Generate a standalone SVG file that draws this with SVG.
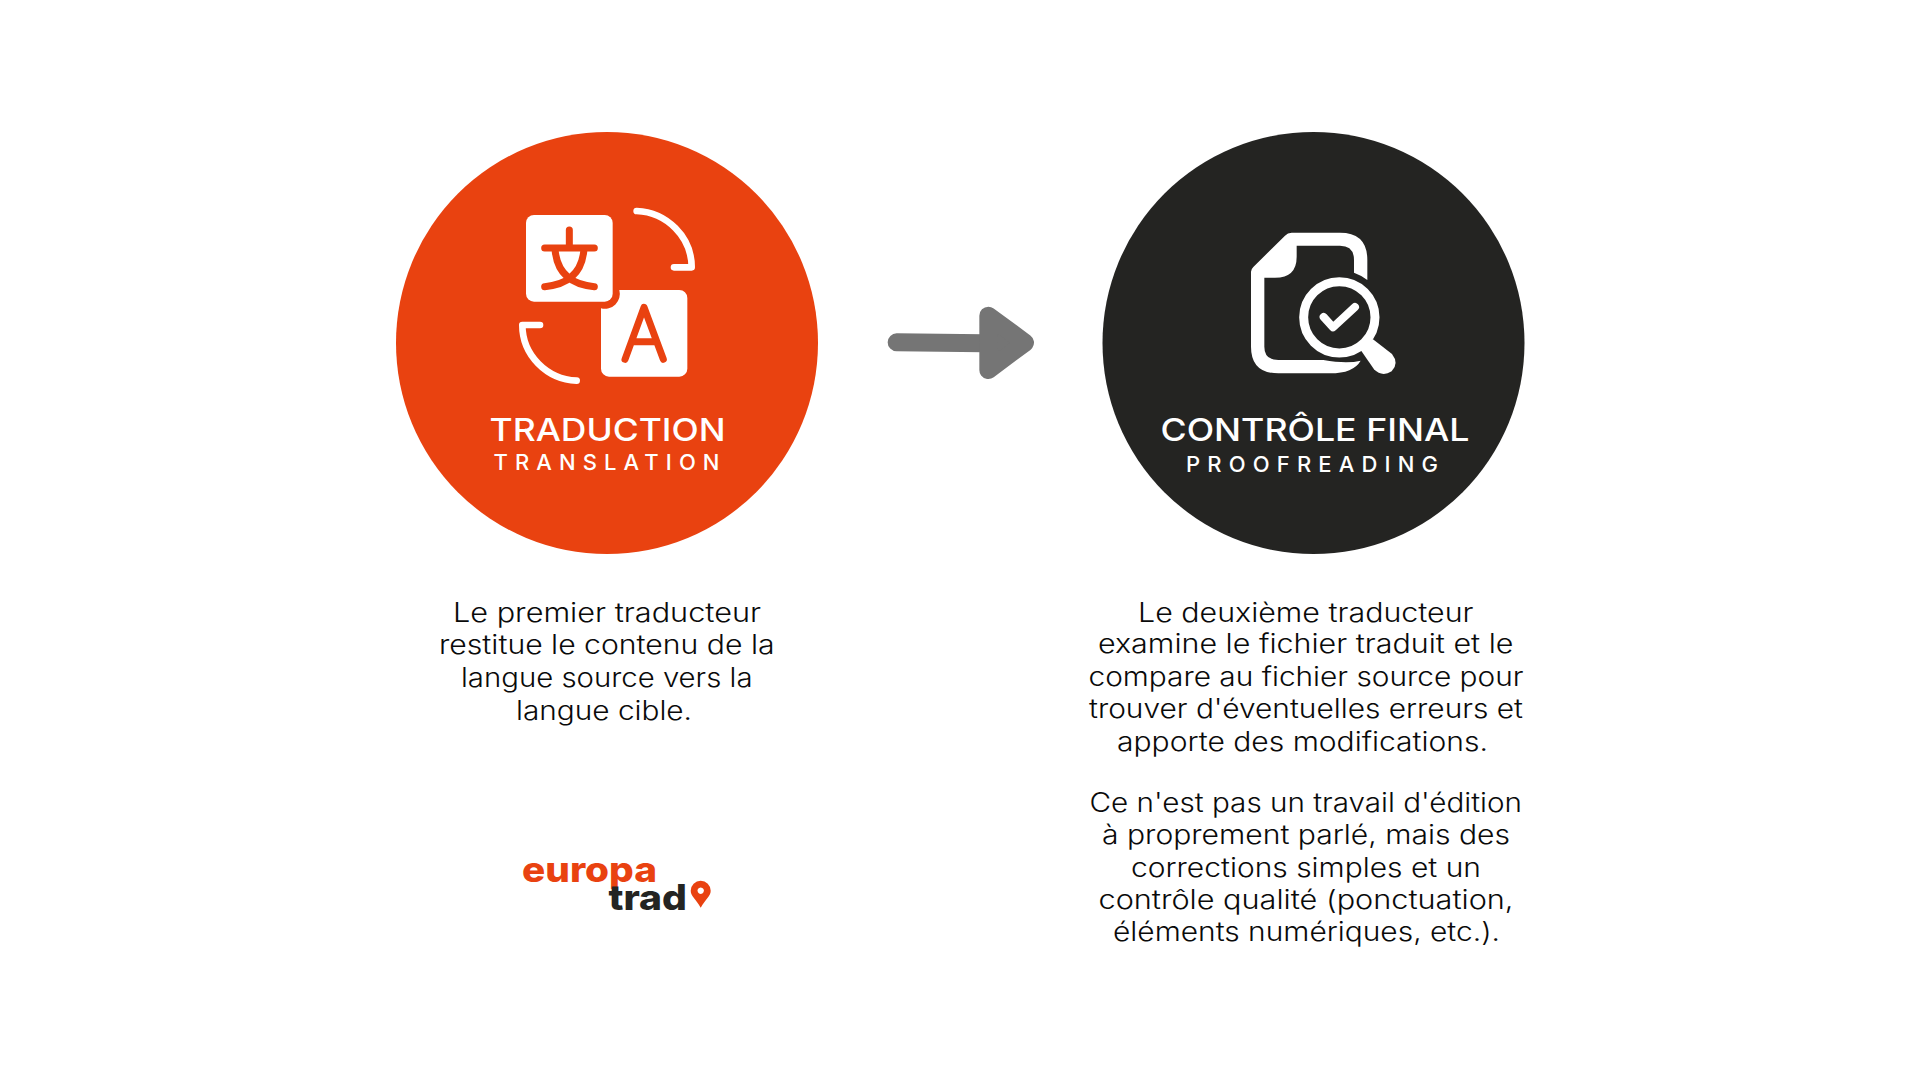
<svg xmlns="http://www.w3.org/2000/svg" width="1920" height="1080" viewBox="0 0 1920 1080">
<style>
text{font-family:Inter,"Open Sans","Liberation Sans",sans-serif}
.b{font-size:26.5px;font-weight:350;fill:#0a0a0a}
.t{font-size:31.5px;font-weight:500;fill:#fff}
.s{font-size:22px;font-weight:500;fill:#fff}
.w{fill:#fff}
.o{fill:none;stroke:#e94210;stroke-linecap:round;stroke-linejoin:round}
.l{fill:none;stroke:#fff;stroke-linecap:round;stroke-linejoin:round}
</style>
<rect width="1920" height="1080" fill="#fff"/>
<g id="node-translation">
<circle cx="607" cy="343" r="211" fill="#e94210"/>
<g transform="translate(480 180) scale(.33333)">
<rect class="w" x="138" y="105" width="260" height="260" rx="24"/>
<path class="w" d="M418 330H598a24 24 0 0 1 24 24V566a24 24 0 0 1-24 24H387a24 24 0 0 1-24-24V385A45 45 0 0 0 418 330Z"/>
<g class="o" stroke-width="21">
<path d="M194 204H343M268 150V204M225 206Q232 310 343 320M312 206Q305 310 194 320"/>
<path d="M435 538L492 382L550 538M455 485H530"/>
</g>
<path class="l" stroke-width="20" d="M470 93C560 97 635 170 635 262H582"/>
<path class="l" stroke-width="20" d="M290 602C200 598 127 525 127 435H180"/>
</g>
<text class="t" x="489.5" y="441" textLength="236" lengthAdjust="spacingAndGlyphs">TRADUCTION</text>
<text class="s" x="493.5" y="469.5" textLength="226" lengthAdjust="spacing">TRANSLATION</text>
<text class="b" x="453" y="621.7" textLength="308" lengthAdjust="spacingAndGlyphs">Le premier traducteur</text>
<text class="b" x="439" y="653.5" textLength="335.5" lengthAdjust="spacingAndGlyphs">restitue le contenu de la</text>
<text class="b" x="461" y="686.5" textLength="291.5" lengthAdjust="spacingAndGlyphs">langue source vers la</text>
<text class="b" x="516" y="719.5" textLength="176" lengthAdjust="spacingAndGlyphs">langue cible.</text>
</g>
<g id="node-proofreading">
<circle cx="1313.5" cy="343" r="211" fill="#242422"/>
<g transform="translate(1150 200) scale(.33333)">
<path class="w" d="M303 215Q303 208 310 201L405 107Q413 98 425 98H570Q652 98 652 180V240Q632 225 612 218V180Q612 137 570 137H440V170Q440 233 375 233H343V440Q343 480 385 480H520Q590 492 632 482Q610 520 540 520H385Q303 520 303 440Z"/>
<circle cx="568" cy="352" r="107" fill="none" stroke="#fff" stroke-width="27"/>
<path class="w" d="M668 417L726 462Q748 490 725 514Q696 532 672 508L632 450Z"/>
<path class="l" stroke-width="24" d="M521 351L549 382L615 321"/>
</g>
<text class="t" x="1160.5" y="441" textLength="309" lengthAdjust="spacingAndGlyphs">CONTRÔLE FINAL</text>
<text class="s" x="1186" y="471.7" textLength="252" lengthAdjust="spacing">PROOFREADING</text>
<text class="b" x="1138" y="621.7" textLength="335.5" lengthAdjust="spacingAndGlyphs">Le deuxième traducteur</text>
<text class="b" x="1098" y="653" textLength="415.5" lengthAdjust="spacingAndGlyphs">examine le fichier traduit et le</text>
<text class="b" x="1088.5" y="686" textLength="435" lengthAdjust="spacingAndGlyphs">compare au fichier source pour</text>
<text class="b" x="1089" y="717.5" textLength="434" lengthAdjust="spacingAndGlyphs">trouver d'éventuelles erreurs et</text>
<text class="b" x="1117" y="750.5" textLength="371" lengthAdjust="spacingAndGlyphs">apporte des modifications.</text>
<text class="b" x="1089.5" y="812" textLength="432.5" lengthAdjust="spacingAndGlyphs">Ce n'est pas un travail d'édition</text>
<text class="b" x="1102" y="844" textLength="408" lengthAdjust="spacingAndGlyphs">à proprement parlé, mais des</text>
<text class="b" x="1131" y="876.7" textLength="350" lengthAdjust="spacingAndGlyphs">corrections simples et un</text>
<text class="b" x="1098.5" y="909" textLength="415" lengthAdjust="spacingAndGlyphs">contrôle qualité (ponctuation,</text>
<text class="b" x="1113" y="941" textLength="387" lengthAdjust="spacingAndGlyphs">éléments numériques, etc.).</text>
</g>
<g id="connectors">
<g transform="translate(870 290) scale(.33333)" fill="#757575" stroke="#757575" stroke-linejoin="round" stroke-linecap="round">
<path d="M80 157L340 160" fill="none" stroke-width="54"/>
<path d="M355 77L465 158L355 240Z" stroke-width="54"/>
</g>
</g>
<g id="logo">
<text x="522" y="881.7" font-size="35" font-weight="800" fill="#e94210" textLength="135" lengthAdjust="spacingAndGlyphs">europa</text>
<text x="608.5" y="910" font-size="35" font-weight="800" fill="#242422" textLength="78.5" lengthAdjust="spacingAndGlyphs">trad</text>
<path fill="#e94210" fill-rule="evenodd" d="M700.7 907.7C696 899 690.7 896 690.7 890.7A10 10 0 0 1 710.7 890.7C710.7 896 705.5 899 700.7 907.7ZM700.7 887.5a3.2 3.2 0 1 0 .01 0Z"/>
</g>
</svg>
